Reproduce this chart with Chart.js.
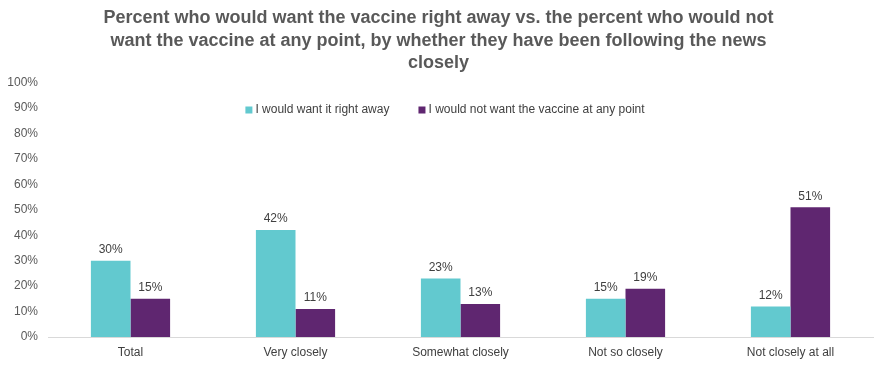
<!DOCTYPE html>
<html>
<head>
<meta charset="utf-8">
<script src="https://cdn.jsdelivr.net/npm/chart.js@4"></script>
<style>
html,body{margin:0;padding:0;background:#fff;}
#wrap{width:883px;height:365px;position:relative;}
</style>
</head>
<body>
<div id="wrap"><canvas id="c" width="883" height="365"></canvas></div>
<script>
const categories = ["Total", "Very closely", "Somewhat closely", "Not so closely", "Not closely at all"];
const wantRightAway = [30, 42, 23, 15, 12];
const notAtAnyPoint = [15, 11, 13, 19, 51];
const seriesLabels = ["I would want it right away", "I would not want the vaccine at any point"];
const titleLines = [
  "Percent who would want the vaccine right away vs. the percent who would not",
  "want the vaccine at any point, by whether they have been following the news",
  "closely"
];
const FONT = "'Liberation Sans', Arial, sans-serif";

const valueLabels = {
  id: 'valueLabels',
  afterDatasetsDraw(chart) {
    const ctx = chart.ctx;
    ctx.save();
    ctx.font = "12px " + FONT;
    ctx.fillStyle = "#404040";
    ctx.textAlign = "center";
    ctx.textBaseline = "bottom";
    chart.data.datasets.forEach((ds, i) => {
      chart.getDatasetMeta(i).data.forEach((bar, j) => {
        ctx.fillText(ds.data[j] + "%", bar.x, bar.y - 5);
      });
    });
    ctx.restore();
  }
};

const customLegend = {
  id: 'customLegend',
  afterDraw(chart) {
    const ctx = chart.ctx;
    ctx.save();
    ctx.font = "12px " + FONT;
    ctx.textBaseline = "middle";
    const y = 110;
    const box = 7, gap = 3, spacing = 29;
    const items = chart.data.datasets.map(d => ({label: d.label, color: d.backgroundColor}));
    let total = 0;
    items.forEach((it, i) => { total += box + gap + ctx.measureText(it.label).width + (i < items.length - 1 ? spacing : 0); });
    let x = 445 - total / 2;
    items.forEach(it => {
      ctx.fillStyle = it.color;
      ctx.fillRect(x, y - box / 2, box, box);
      x += box + gap;
      ctx.fillStyle = "#404040";
      ctx.textAlign = "left";
      ctx.fillText(it.label, x, y);
      x += ctx.measureText(it.label).width + spacing;
    });
    ctx.restore();
  }
};

new Chart(document.getElementById('c'), {
  type: 'bar',
  data: {
    labels: categories,
    datasets: [
      { label: seriesLabels[0], data: wantRightAway, backgroundColor: "#62C9CF" },
      { label: seriesLabels[1], data: notAtAnyPoint, backgroundColor: "#5F2670" }
    ]
  },
  options: {
    responsive: false,
    animation: false,
    devicePixelRatio: 1,
    layout: { padding: { top: 7, right: 10, left: 4, bottom: 0 } },
    datasets: { bar: { categoryPercentage: 0.48, barPercentage: 1.0 } },
    plugins: {
      legend: { display: false },
      tooltip: { enabled: false },
      title: {
        display: true,
        text: titleLines,
        color: "#595959",
        font: { family: FONT, size: 18, weight: 'bold', lineHeight: 1.25 },
        padding: { top: 0, bottom: 8 }
      }
    },
    scales: {
      x: {
        grid: { display: false, drawTicks: false },
        border: { display: true, color: "#D9D9D9", width: 1 },
        ticks: { color: "#404040", font: { family: FONT, size: 12 }, padding: 8 },
        afterFit(scale) { scale.height = 28; }
      },
      y: {
        min: 0, max: 100,
        grid: { display: false, drawTicks: false },
        border: { display: false },
        ticks: { stepSize: 10, color: "#595959", font: { family: FONT, size: 12 }, padding: 10,
          callback: v => v + "%" },
        afterFit(scale) { scale.width = 44; }
      }
    }
  },
  plugins: [valueLabels, customLegend]
});
</script>
</body>
</html>
